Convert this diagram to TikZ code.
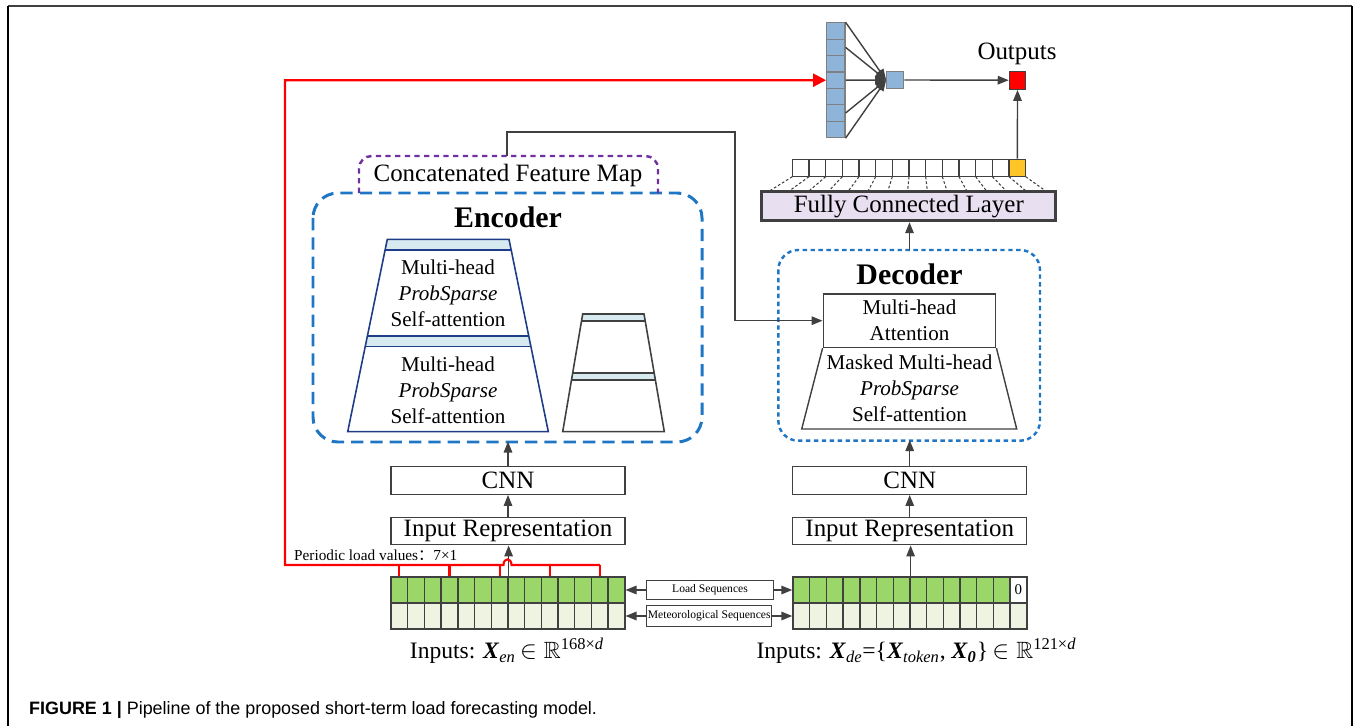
\documentclass[tikz,border=0pt]{standalone}
\usepackage{fontspec}
\usepackage{amssymb}
\setmainfont{Liberation Serif}
\setsansfont{Liberation Sans}
\newfontfamily\cjk{Noto Sans CJK SC}
\usepackage{tikz}
\usetikzlibrary{arrows.meta, positioning, calc}
\definecolor{linegray}{RGB}{64, 64, 64}
\definecolor{loadgreen}{RGB}{155, 214, 104}
\definecolor{metgreen}{RGB}{239, 243, 226}
\definecolor{bandblue}{RGB}{214, 234, 240}
\definecolor{encblue}{RGB}{30, 118, 196}
\definecolor{mappurple}{RGB}{112, 48, 160}
\definecolor{trapnavy}{RGB}{31, 60, 136}
\definecolor{vecblue}{RGB}{142, 180, 218}
\definecolor{fclilac}{RGB}{232, 224, 240}
\definecolor{outyellow}{RGB}{255, 197, 38}

\begin{document}
\begin{tikzpicture}[
    x=0.02cm, y=-0.02cm,
    font=\fontsize{14.2}{14.8}\selectfont,
    block/.style={draw=linegray, line width=0.8pt, fill=white, inner sep=0pt,
                  minimum width=4.68cm, minimum height=0.55cm},
    cell/.style={draw=linegray, line width=0.8pt, inner sep=0pt,
                 minimum width=0.334cm, minimum height=0.52cm},
    fccell/.style={draw=linegray, line width=0.8pt, fill=white, inner sep=0pt,
                   minimum width=0.333cm, minimum height=0.348cm},
    veccell/.style={draw=gray, line width=0.6pt, fill=vecblue, inner sep=0pt,
                    minimum width=0.367cm, minimum height=0.329cm},
    seqbox/.style={draw=linegray, line width=0.6pt, inner sep=0pt,
                   font=\fontsize{6.6}{7}\selectfont},
    arrow/.style={-{Triangle[length=2.2mm, width=1.7mm]}, draw=linegray, line width=0.8pt},
    redline/.style={draw=red, line width=1.2pt},
    heading/.style={font=\fontsize{17}{18}\selectfont\bfseries},
    stack/.style={align=center, font=\fontsize{12}{14.8}\selectfont},
    inlabel/.style={anchor=base, font=\fontsize{13.4}{14}\selectfont}
  ]
  \useasboundingbox (0,0) rectangle (1354,726);
  % frame of the figure
  \draw[linegray, line width=1.2pt] (8,6) -- (1352,6);
  \draw[black, line width=0.7pt] (8,6) -- (8,726) (1352,6) -- (1352,726);

  % encoder side
  \draw[encblue, line width=1.7pt, dash pattern=on 7pt off 4pt, rounded corners=0.5cm]
    (313,193) rectangle (702,442);
  \node[heading, anchor=base] (enchead) at (508,227) {Encoder};
  \node (cfm) at (508,175) {Concatenated Feature Map};
  \draw[mappurple, line width=1.4pt, dash pattern=on 3pt off 2.5pt, rounded corners=0.25cm]
    (359,193) -- (359,156) -- (658,156) -- (658,193);
  \coordinate (cfmtop) at (507,156);
  \coordinate (bend) at (735,132);

  \coordinate (tl) at (387.3,239.3); \coordinate (tr) at (509,239.3);
  \coordinate (bl) at (347.7,431.7); \coordinate (br) at (548.3,431.7);
  \foreach \a/\b in {0/0.056, 0.503/0.558}
    \fill[bandblue] ($(tl)!\a!(bl)$) -- ($(tr)!\a!(br)$) -- ($(tr)!\b!(br)$) -- ($(tl)!\b!(bl)$) -- cycle;
  \draw[trapnavy, line width=0.9pt] (tl) -- (tr) -- (br) -- (bl) -- cycle;
  \foreach \t in {0.056, 0.503, 0.558}
    \draw[trapnavy, line width=0.9pt] ($(tl)!\t!(bl)$) -- ($(tr)!\t!(br)$);
  \node[stack] (att1) at (448,293) {Multi-head\\\textit{ProbSparse}\\Self-attention};
  \node[stack] (att2) at (448,390) {Multi-head\\\textit{ProbSparse}\\Self-attention};

  \coordinate (sl) at (582.7,314); \coordinate (sr) at (644,314);
  \coordinate (sbl) at (562.7,431.7); \coordinate (sbr) at (664.3,431.7);
  \foreach \a/\b in {0/0.057, 0.499/0.561}
    \fill[bandblue] ($(sl)!\a!(sbl)$) -- ($(sr)!\a!(sbr)$) -- ($(sr)!\b!(sbr)$) -- ($(sl)!\b!(sbl)$) -- cycle;
  \draw[linegray, line width=0.9pt] (sl) -- (sr) -- (sbr) -- (sbl) -- cycle;
  \foreach \t in {0.057, 0.499, 0.561}
    \draw[linegray, line width=0.9pt] ($(sl)!\t!(sbl)$) -- ($(sr)!\t!(sbr)$);

  \node[block] (cnnenc) at (508,480.5) {CNN};
  \node[block] (irenc) at (508,531) {Input Representation};

  % decoder side
  \draw[encblue, line width=1.4pt, dash pattern=on 2.5pt off 2pt, rounded corners=0.4cm]
    (778.3,250) rectangle (1040,440.7);
  \node[heading, anchor=base] (dechead) at (909.5,284) {Decoder};
  \node[draw=linegray, line width=0.8pt, inner sep=0pt, minimum width=3.45cm,
        minimum height=1.07cm, stack] (mha) at (909.5,320.7) {Multi-head\\Attention};
  \draw[linegray, line width=0.8pt] (mha.south west) -- (801.7,429) -- (1016.7,429) -- (mha.south east);
  \node[stack] (mask) at (909.5,388) {Masked Multi-head\\\textit{ProbSparse}\\Self-attention};

  \node[block] (cnndec) at (909.7,480.5) {CNN};
  \node[block] (irdec) at (909.7,531) {Input Representation};

  % output head
  \node[draw=linegray, line width=1.7pt, fill=fclilac, inner sep=0pt, minimum width=5.886cm,
        minimum height=0.58cm] (fc) at (908.8,206.2) {Fully Connected Layer};
  \foreach \i in {1,...,13}
    \node[fccell] (o\i) at ({792.3+16.67*(\i-0.5)},168) {};
  \node[fccell, fill=outyellow] (o14) at ({792.3+16.67*13.5},168) {};
  \foreach \i in {0,...,14}
    \draw[linegray, line width=0.6pt, dash pattern=on 1.5pt off 1.2pt]
      ({792.3+16.67*\i},176.7) -- ({768.3+19.89*\i},191.7);

  \foreach \i in {1,...,7}
    \node[veccell] (v\i) at (835.8,{22.7+16.43*(\i-0.5)}) {};
  \node[veccell, minimum width=0.346cm, minimum height=0.332cm] (hid) at (895.3,80) {};
  \node[draw=linegray, line width=0.6pt, fill=red, inner sep=0pt, minimum width=0.33cm,
        minimum height=0.366cm] (out) at (1017.5,80.2) {};
  \node[anchor=base] (outlbl) at (1017,60) {Outputs};

  % inputs
  \foreach \i in {1,...,14} {
    \node[cell, fill=loadgreen] (et\i) at ({391+16.7*(\i-0.5)},590) {};
    \node[cell, fill=metgreen] (eb\i) at ({391+16.7*(\i-0.5)},616) {};
  }
  \foreach \i in {1,...,13}
    \node[cell, fill=loadgreen] (dt\i) at ({793+16.7*(\i-0.5)},590) {};
  \node[cell, fill=white, font=\fontsize{8.5}{9}\selectfont] (dt14) at ({793+16.7*13.5},590) {0};
  \foreach \i in {1,...,14}
    \node[cell, fill=metgreen] (db\i) at ({793+16.7*(\i-0.5)},616) {};

  \node[seqbox, minimum width=2.53cm, minimum height=0.386cm] (ls) at (710,590) {Load Sequences};
  \node[seqbox, minimum width=2.5cm, minimum height=0.406cm] (ms) at (709.2,616) {Meteorological Sequences};

  \node[inlabel] (inen) at (507,658.3)
    {Inputs: \textbf{\textit{X}}\textsubscript{\textit{en}}$\,\in\mathbb{R}$\textsuperscript{168×\textit{d}}};
  \node[inlabel] (inde) at (916.5,658.3)
    {Inputs: \textbf{\textit{X}}\textsubscript{\textit{de}}=\{\textbf{\textit{X}}\textsubscript{\textit{token}},
     \textbf{\textit{X}}\textsubscript{\textbf{\textit{0}}}\}$\,\in\mathbb{R}$\textsuperscript{121×\textit{d}}};

  % connectors
  \draw[arrow] (et7.north east) -- (et7.north east |- irenc.south);
  \draw[arrow] (irenc) -- (cnnenc);
  \draw[arrow] (cnnenc.north) -- ++(0,-24.5);
  \draw[arrow] (dt7.north east) -- (dt7.north east |- irdec.south);
  \draw[arrow] (irdec) -- (cnndec);
  \draw[arrow] (cnndec.north) -- ++(0,-26);
  \draw[arrow] (ls.west) -- (et14.east);
  \draw[arrow] (ls.east) -- (dt1.west);
  \draw[arrow] (ms.west) -- (eb14.east);
  \draw[arrow] (ms.east) -- (db1.west);
  \draw[arrow] (cfmtop) |- (bend) |- (mha.west);
  \draw[arrow] (909.5,250) -- (fc.south -| 909.5,0);
  \draw[arrow] (o14.north) -- (out.south);
  \draw[arrow] (hid.east) -- (out.west);
  \foreach \s in {v1.north east, v2.east, v4.east, v6.east, v7.south east}
    \draw[arrow] (\s) -- (hid.west);

  % periodic load values
  \coordinate (redcorner) at (285,565);
  \draw[redline, -{Triangle[length=2.6mm, width=2.6mm]}]
    (et13.north |- redcorner) -- (511.5,565) .. controls (511.5,557.5) and (503.5,557.5) .. (503.5,565)
    -- (redcorner) |- (v4.west);
  \foreach \i in {1,4,7,10,13}
    \draw[redline] (et\i.north) -- ++(0,-11.7);
  \node[anchor=west, font=\fontsize{8.7}{9}\selectfont] (plv) at (288,555)
    {Periodic load values{\cjk ：}7×1};

  % caption
  \node[anchor=base west, font=\sffamily\fontsize{10.2}{12}\selectfont] (cap) at (23,714)
    {\textbf{FIGURE 1 |} Pipeline of the proposed short-term load forecasting model.};
\end{tikzpicture}
\end{document}
